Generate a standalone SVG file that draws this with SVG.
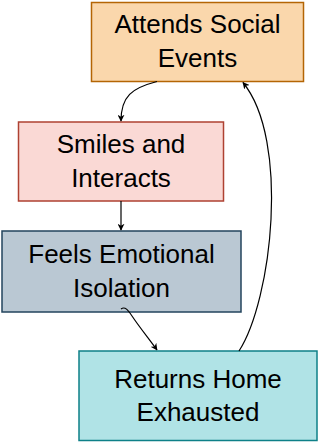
<svg xmlns="http://www.w3.org/2000/svg" width="318" height="442" viewBox="0 0 318 442">
<style>
text{font-family:"Liberation Sans",Arial,sans-serif;font-size:26px;fill:#000;text-anchor:middle}
.e{fill:none;stroke:#000;stroke-width:1.2}
</style>
<defs>
<marker id="a" viewBox="0 0 10 10" refX="9" refY="5" markerWidth="7" markerHeight="7" markerUnits="userSpaceOnUse" orient="auto">
<path d="M0,0 L10,5 L0,10 L3,5 Z" fill="#000"/>
</marker>
</defs>
<rect width="318" height="442" fill="#fff"/>
<g id="n1"><rect x="91.5" y="2.5" width="212" height="79" fill="#fad7ac" stroke="#b46504" stroke-width="1.5"/><text x="197.5" y="33">Attends Social</text><text x="197.5" y="67">Events</text></g>
<g id="n2"><rect x="18.5" y="122" width="205" height="79" fill="#fad9d5" stroke="#ae4132" stroke-width="1.5"/><text x="121" y="153">Smiles and</text><text x="121" y="187">Interacts</text></g>
<g id="n3"><rect x="2" y="231" width="239" height="81" fill="#bac8d3" stroke="#23445d" stroke-width="1.5"/><text x="121.5" y="263">Feels Emotional</text><text x="121.5" y="297">Isolation</text></g>
<g id="n4"><rect x="79" y="351" width="238" height="89.5" fill="#b0e3e6" stroke="#0e8088" stroke-width="1.5"/><text x="198" y="388">Returns Home</text><text x="198" y="421">Exhausted</text></g>
<g id="edges">
<path class="e" d="M157,81.5 C132,88 121,96 121,121" marker-end="url(#a)"/>
<path class="e" d="M121,201 L121,230" marker-end="url(#a)"/>
<path class="e" d="M121,309 C125,306 128,310 132,316 C140,328 150,340 157,350" marker-end="url(#a)"/>
<path class="e" d="M239,351 C272,300 290,140 243,82.5" marker-end="url(#a)"/>
</g>
</svg>
